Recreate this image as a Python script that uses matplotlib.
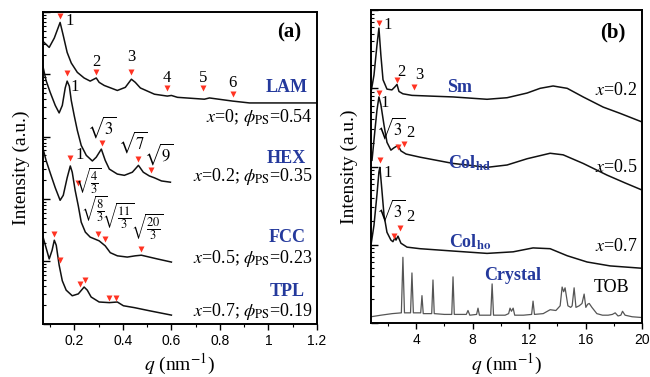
import numpy as np
import matplotlib
matplotlib.use('Agg')
import matplotlib.pyplot as plt
from matplotlib.ticker import MultipleLocator, LogLocator, NullFormatter

plt.rcParams['font.family'] = ['Liberation Serif', 'DejaVu Serif']
plt.rcParams['mathtext.fontset'] = 'stix'

# ---------- panel (a): SAXS, q in nm^-1, log10 intensity (offset curves) ----------
lam_q = [0.067, 0.096, 0.117, 0.141, 0.154, 0.170, 0.187, 0.212, 0.240, 0.265, 0.290, 0.302,
         0.323, 0.377, 0.410, 0.435, 0.451, 0.472, 0.530, 0.583, 0.600, 0.625, 0.736, 0.757,
         0.852, 0.922, 1.046, 1.199]
lam_logI = [4.54, 4.43, 4.58, 4.83, 4.62, 4.35, 4.18, 4.03, 3.94, 3.89, 3.94, 3.87,
            3.82, 3.74, 3.79, 3.92, 3.87, 3.78, 3.68, 3.65, 3.66, 3.63, 3.60, 3.62,
            3.57, 3.54, 3.54, 3.54]

hex_q = [0.067, 0.083, 0.100, 0.121, 0.137, 0.150, 0.162, 0.170, 0.179, 0.187, 0.199, 0.212,
         0.228, 0.249, 0.274, 0.290, 0.311, 0.327, 0.344, 0.377, 0.406, 0.439, 0.464, 0.484,
         0.509, 0.530, 0.559, 0.596]
hex_logI = [4.18, 3.90, 3.71, 3.50, 3.38, 3.50, 3.78, 3.89, 3.81, 3.58, 3.34, 3.10,
            2.86, 2.70, 2.61, 2.67, 2.80, 2.62, 2.48, 2.40, 2.38, 2.43, 2.54, 2.43,
            2.37, 2.34, 2.29, 2.27]

fcc_q = [0.067, 0.083, 0.100, 0.121, 0.141, 0.154, 0.170, 0.183, 0.191, 0.203, 0.216, 0.228,
         0.245, 0.265, 0.302, 0.327, 0.348, 0.377, 0.418, 0.451, 0.476, 0.509, 0.542, 0.600]
fcc_logI = [2.86, 2.62, 2.42, 2.18, 1.98, 2.06, 2.34, 2.53, 2.43, 2.14, 1.89, 1.63,
            1.47, 1.39, 1.33, 1.25, 1.14, 1.09, 1.07, 1.09, 1.10, 1.07, 1.04, 0.99]

tpl_q = [0.067, 0.083, 0.096, 0.108, 0.117, 0.125, 0.137, 0.150, 0.166, 0.191, 0.216, 0.240,
         0.253, 0.269, 0.302, 0.344, 0.377, 0.402, 0.447, 0.509, 0.600]
tpl_logI = [1.44, 1.22, 1.04, 1.18, 1.34, 1.26, 0.94, 0.69, 0.54, 0.45, 0.48, 0.59,
            0.54, 0.43, 0.35, 0.34, 0.35, 0.29, 0.26, 0.21, 0.14]

# peak markers (a)
lam_mk_q = [0.141, 0.290, 0.435, 0.583, 0.732, 0.852]
lam_mk_logI = [4.93, 4.03, 4.03, 3.78, 3.78, 3.68]
lam_mk_lbl = ['1', '2', '3', '4', '5', '6']
lam_lbl_q = [0.179, 0.290, 0.435, 0.583, 0.732, 0.852]
lam_lbl_logI = [4.86, 4.19, 4.27, 3.94, 3.94, 3.86]

hex_mk_q = [0.170, 0.315, 0.464, 0.517]
hex_mk_logI = [4.02, 2.90, 2.64, 2.46]
hex_lbl = ['1', r'$\sqrt{3}$', r'$\sqrt{7}$', r'$\sqrt{9}$']
hex_lbl_q = [0.203, 0.315, 0.440, 0.550]
hex_lbl_logI = [3.79, 3.15, 2.92, 2.72]

fcc_mk_q = [0.183, 0.216, 0.298, 0.327, 0.476]
fcc_mk_logI = [2.66, 2.26, 1.44, 1.36, 1.20]
fcc_lbl = ['1', r'$\sqrt{\dfrac{4}{3}}$', r'$\sqrt{\dfrac{8}{3}}$', r'$\sqrt{\dfrac{11}{3}}$',
           r'$\sqrt{\dfrac{20}{3}}$']
fcc_lbl_q = [0.220, 0.258, 0.280, 0.380, 0.500]
fcc_lbl_logI = [2.70, 2.28, 1.83, 1.72, 1.55]

tpl_mk_q = [0.117, 0.141, 0.224, 0.245, 0.344, 0.373]
tpl_mk_logI = [1.44, 1.02, 0.64, 0.70, 0.42, 0.42]

# ---------- panel (b): WAXS ----------
sm_q = [0.80, 1.01, 1.22, 1.36, 1.50, 1.65, 1.93, 2.28, 2.50, 2.64, 2.78, 3.06, 3.70, 5.12,
        6.61, 9.02, 10.44, 11.86, 12.78, 13.70, 14.70, 15.83, 17.25, 18.45, 20.0]
sm_logI = [2.95, 3.17, 3.55, 3.77, 3.42, 3.11, 2.99, 2.98, 3.02, 3.05, 2.96, 2.93, 2.91, 2.90,
           2.89, 2.86, 2.88, 2.94, 3.00, 3.03, 3.00, 2.89, 2.76, 2.68, 2.57]

colhd_q = [0.87, 1.08, 1.22, 1.36, 1.50, 1.72, 1.93, 2.21, 2.43, 2.71, 2.92, 3.28, 4.27, 6.61,
           9.02, 10.44, 11.86, 13.49, 14.41, 15.83, 17.53, 18.81, 20.0]
colhd_logI = [2.08, 2.47, 2.72, 2.89, 2.79, 2.53, 2.31, 2.21, 2.24, 2.27, 2.20, 2.16, 2.12, 2.04,
              1.99, 2.02, 2.10, 2.17, 2.15, 2.04, 1.89, 1.79, 1.70]

colho_q = [0.80, 1.01, 1.22, 1.36, 1.43, 1.57, 1.72, 1.93, 2.21, 2.35, 2.50, 2.57, 2.71, 2.92,
           3.35, 4.27, 6.61, 9.02, 10.87, 12.28, 13.49, 14.70, 16.11, 17.74, 20.0]
colho_logI = [1.00, 1.25, 1.64, 1.93, 1.99, 1.70, 1.38, 1.16, 1.06, 1.04, 1.09, 1.06, 1.11, 1.02,
              0.97, 0.95, 0.92, 0.89, 0.91, 0.96, 0.95, 0.86, 0.78, 0.73, 0.70]

tob_q = [0.80, 1.50, 2.30, 2.95, 3.06, 3.17, 3.60, 3.70, 3.80, 4.32, 4.41, 4.50, 5.10, 5.19,
         5.28, 6.00, 6.52, 6.61, 6.70, 7.55, 7.67, 7.80, 8.28, 8.38, 8.48, 9.28, 9.38, 9.48,
         10.30, 10.55, 10.65, 10.75, 10.87, 10.98, 11.60, 12.18, 12.28, 12.38, 13.00, 13.49,
         13.90, 14.20, 14.34, 14.45, 14.55, 14.75, 14.95, 15.05, 15.19, 15.32, 15.55, 15.75,
         15.90, 16.02, 16.15, 16.26, 16.45, 16.80, 17.20, 17.60, 17.90, 18.10, 18.30, 18.50,
         18.62, 18.80, 19.30, 20.00]
tob_logI = [0.08, 0.10, 0.12, 0.13, 0.84, 0.13, 0.13, 0.64, 0.13, 0.13, 0.35, 0.12, 0.12, 0.55,
            0.12, 0.11, 0.11, 0.59, 0.11, 0.11, 0.16, 0.10, 0.11, 0.19, 0.10, 0.10, 0.50, 0.10,
            0.10, 0.12, 0.19, 0.15, 0.19, 0.10, 0.10, 0.11, 0.28, 0.11, 0.12, 0.17,
            0.16, 0.22, 0.46, 0.40, 0.45, 0.22, 0.20, 0.22, 0.45, 0.20, 0.22, 0.25,
            0.37, 0.20, 0.24, 0.25, 0.20, 0.12, 0.10, 0.10, 0.11, 0.13, 0.09, 0.10,
            0.15, 0.10, 0.08, 0.07]

sm_mk_q = [1.36, 2.64, 3.85]
sm_mk_logI = [3.83, 3.11, 3.02]
sm_lbl = ['1', '2', '3']
sm_lbl_q = [2.0, 2.92, 4.2]
sm_lbl_logI = [3.81, 3.21, 3.17]

colhd_mk_q = [1.36, 2.71, 3.13]
colhd_mk_logI = [2.94, 2.25, 2.29]
colhd_lbl = ['1', r'$\sqrt{3}$', '2']
colhd_lbl_q = [1.79, 2.22, 3.62]
colhd_lbl_logI = [2.81, 2.49, 2.43]

colho_mk_q = [1.43, 2.43, 2.85]
colho_mk_logI = [2.09, 1.11, 1.21]
colho_lbl = ['1', r'$\sqrt{3}$', '2']
colho_lbl_q = [2.0, 2.20, 3.58]
colho_lbl_logI = [1.92, 1.44, 1.35]

RED = '#ff3322'
BLUE = '#24399c'


def curve(ax, q, logI, color='#111111', lw=1.1):
    ax.plot(q, np.power(10.0, logI), color=color, lw=lw)


def marks(ax, q, logI):
    ax.plot(q, np.power(10.0, logI), 'v', color=RED, ms=4.2, mec='none', ls='none')


def labels(ax, q, logI, texts, size=12):
    for x, y, t in zip(q, logI, texts):
        ax.text(x, 10 ** y, t, fontsize=size, ha='center', va='center')


def style(ax):
    ax.set_yscale('log')
    ax.yaxis.set_major_locator(LogLocator(base=10))
    ax.yaxis.set_minor_locator(LogLocator(base=10, subs=np.arange(2, 10)))
    ax.yaxis.set_major_formatter(NullFormatter())
    ax.yaxis.set_minor_formatter(NullFormatter())
    ax.tick_params(axis='y', which='major', direction='in', length=5, width=1.0, left=True, right=False)
    ax.tick_params(axis='y', which='minor', direction='in', length=2.5, width=0.8)
    ax.tick_params(axis='x', which='major', direction='out', length=4, width=1.0, top=False, labelsize=10)
    ax.tick_params(axis='x', which='minor', direction='out', length=2.5, width=0.8, top=False)
    for s in ax.spines.values():
        s.set_linewidth(1.4)
    for lbl in ax.get_xticklabels():
        lbl.set_fontfamily('Liberation Sans')
    ax.set_xlabel(r'$q$ (nm$^{-1}$)', fontsize=14, labelpad=3)
    ax.set_ylabel('Intensity (a.u.)', fontsize=14, labelpad=6)


fig = plt.figure(figsize=(6.5, 3.77), dpi=100)

# ----- (a) -----
axa = fig.add_axes([0.066, 0.141, 0.4215, 0.8276])
for q, li in [(lam_q, lam_logI), (hex_q, hex_logI), (fcc_q, fcc_logI), (tpl_q, tpl_logI)]:
    curve(axa, q, li)
marks(axa, lam_mk_q, lam_mk_logI)
marks(axa, hex_mk_q, hex_mk_logI)
marks(axa, fcc_mk_q, fcc_mk_logI)
marks(axa, tpl_mk_q, tpl_mk_logI)
labels(axa, lam_lbl_q, lam_lbl_logI, lam_mk_lbl)
labels(axa, hex_lbl_q, hex_lbl_logI, hex_lbl)
labels(axa, fcc_lbl_q[:1], fcc_lbl_logI[:1], fcc_lbl[:1])
labels(axa, fcc_lbl_q[1:], fcc_lbl_logI[1:], fcc_lbl[1:], size=9)
axa.set_xlim(0.07, 1.2)
axa.set_ylim(1, 1e5)
axa.xaxis.set_major_locator(MultipleLocator(0.2))
axa.xaxis.set_minor_locator(MultipleLocator(0.1))
axa.set_xticks([0.2, 0.4, 0.6, 0.8, 1.0, 1.2])
axa.set_xticklabels(['0.2', '0.4', '0.6', '0.8', '1', '1.2'])
style(axa)

ta = axa.transAxes
axa.text(0.90, 0.933, '(a)', transform=ta, fontsize=15, fontweight='bold', ha='center', va='center')
for y, name in [(0.756, 'LAM'), (0.529, 'HEX'), (0.276, 'FCC'), (0.103, 'TPL')]:
    axa.text(0.89, y, name, transform=ta, fontsize=13, fontweight='bold', color=BLUE,
             ha='center', va='center')
for y, xv, phi in [(0.66, '0', '0.54'), (0.471, '0.2', '0.35'), (0.208, '0.5', '0.23'),
                   (0.038, '0.7', '0.19')]:
    axa.text(0.985, y, r'$x$=' + xv + r'; $\phi_{\rm PS}$=' + phi, transform=ta, fontsize=13,
             ha='right', va='center')

# ----- (b) -----
axb = fig.add_axes([0.5708, 0.1432, 0.4169, 0.830])
curve(axb, sm_q, sm_logI)
curve(axb, colhd_q, colhd_logI)
curve(axb, colho_q, colho_logI)
curve(axb, tob_q, tob_logI, color='#555555', lw=0.9)
marks(axb, sm_mk_q, sm_mk_logI)
marks(axb, colhd_mk_q, colhd_mk_logI)
marks(axb, colho_mk_q, colho_mk_logI)
labels(axb, sm_lbl_q, sm_lbl_logI, sm_lbl)
labels(axb, colhd_lbl_q, colhd_lbl_logI, colhd_lbl)
labels(axb, colho_lbl_q, colho_lbl_logI, colho_lbl)
axb.set_xlim(0.8, 20)
axb.set_ylim(1, 1e4)
axb.xaxis.set_major_locator(MultipleLocator(4))
axb.xaxis.set_minor_locator(MultipleLocator(2))
axb.set_xticks([4, 8, 12, 16, 20])
axb.set_xticklabels(['4', '8', '12', '16', '20'])
style(axb)

tb = axb.transAxes
axb.text(0.893, 0.927, '(b)', transform=tb, fontsize=15, fontweight='bold', ha='center', va='center')
axb.text(0.328, 0.754, 'Sm', transform=tb, fontsize=13, fontweight='bold', color=BLUE,
         ha='center', va='center')
axb.text(0.365, 0.511, r'Col$_{\mathbf{hd}}$', transform=tb, fontsize=13, fontweight='bold',
         color=BLUE, ha='center', va='center')
axb.text(0.365, 0.259, r'Col$_{\mathbf{ho}}$', transform=tb, fontsize=13, fontweight='bold',
         color=BLUE, ha='center', va='center')
axb.text(0.524, 0.153, 'Crystal', transform=tb, fontsize=13, fontweight='bold', color=BLUE,
         ha='center', va='center')
axb.text(0.889, 0.112, 'TOB', transform=tb, fontsize=13, ha='center', va='center')
for y, xv in [(0.744, '0.2'), (0.498, '0.5'), (0.243, '0.7')]:
    axb.text(0.982, y, r'$x$=' + xv, transform=tb, fontsize=13, ha='right', va='center')

fig.savefig('out.png', dpi=100)
